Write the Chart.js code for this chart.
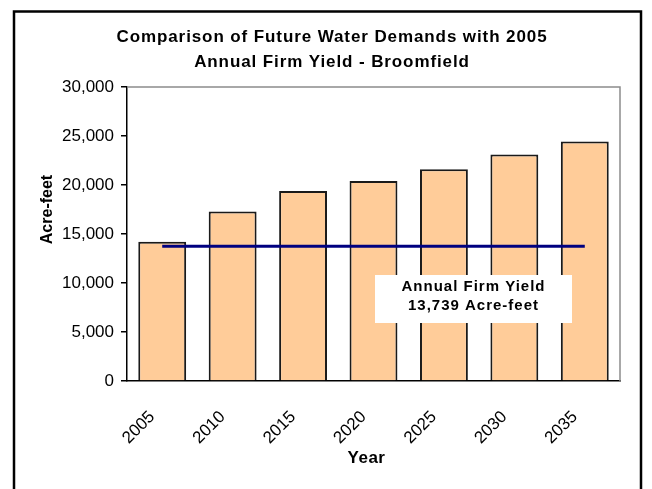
<!DOCTYPE html>
<html>
<head>
<meta charset="utf-8">
<script src="https://cdn.jsdelivr.net/npm/chart.js@4"></script>
<style>
html,body{margin:0;padding:0;background:#fff;}
canvas{display:block;}
</style>
</head>
<body>
<canvas id="c" width="652" height="489"></canvas>
<script>
// ---- data ----
const years = ['2005', '2010', '2015', '2020', '2025', '2030', '2035'];
const demandAcreFeet = [14200, 17300, 19400, 20400, 21600, 23100, 24450];
const firmYieldAcreFeet = [13739, 13739, 13739, 13739, 13739, 13739, 13739];
const yAxisMin = 0;
const yAxisMax = 30000;
const yAxisStep = 5000;
const chartTitle = ['Comparison of Future Water Demands with 2005', 'Annual Firm Yield - Broomfield'];
const xAxisTitle = 'Year';
const yAxisTitle = 'Acre-feet';
const yieldNote = ['Annual Firm Yield', '13,739 Acre-feet'];

const FONT = '"Liberation Sans", Arial, sans-serif';
Chart.defaults.font.family = FONT;
Chart.defaults.color = '#000';

const decor = {
  id: 'decor',
  beforeDraw(chart) {
    const ctx = chart.ctx;
    ctx.save();
    ctx.fillStyle = '#fff';
    ctx.fillRect(0, 0, chart.width, chart.height);
    ctx.strokeStyle = '#000';
    ctx.lineWidth = 2.5;
    ctx.strokeRect(14, 11.5, 627, 500);
    ctx.restore();
  },
  beforeDatasetsDraw(chart) {
    const ctx = chart.ctx, a = chart.chartArea;
    ctx.save();
    ctx.strokeStyle = '#8c8c8c';
    ctx.lineWidth = 1.5;
    ctx.beginPath();
    ctx.moveTo(a.left, a.top);
    ctx.lineTo(a.right, a.top);
    ctx.lineTo(a.right, a.bottom);
    ctx.stroke();
    ctx.restore();
  },
  afterDraw(chart) {
    const ctx = chart.ctx, a = chart.chartArea;
    ctx.save();
    ctx.fillStyle = '#000';
    ctx.textAlign = 'center';
    ctx.textBaseline = 'middle';
    // title
    ctx.font = 'bold 17px ' + FONT;
    ctx.letterSpacing = '0.9px';
    ctx.fillText(chartTitle[0], 332, 37);
    ctx.fillText(chartTitle[1], 332, 62);
    // axis titles
    ctx.font = 'bold 17px ' + FONT;
    ctx.letterSpacing = '0.5px';
    ctx.fillText(xAxisTitle, (a.left + a.right) / 2 - 7, 458);
    ctx.save();
    ctx.translate(47.5, 209.5);
    ctx.rotate(-Math.PI / 2);
    ctx.font = 'bold 16px ' + FONT;
    ctx.letterSpacing = '0px';
    ctx.fillText(yAxisTitle, 0, 0);
    ctx.restore();
    // annotation box
    const cx = a.left + 346.5;
    const top = a.top + 188;
    ctx.fillStyle = '#fff';
    ctx.fillRect(cx - 98.5, top, 197, 48);
    ctx.fillStyle = '#000';
    ctx.font = 'bold 15px ' + FONT;
    ctx.letterSpacing = '1px';
    ctx.fillText(yieldNote[0], cx, top + 12);
    ctx.fillText(yieldNote[1], cx, top + 31);
    ctx.restore();
  }
};

new Chart(document.getElementById('c'), {
  data: {
    labels: years,
    datasets: [
      {
        type: 'line',
        label: 'Annual Firm Yield',
        data: firmYieldAcreFeet,
        borderColor: '#000080',
        borderWidth: 3,
        pointRadius: 0,
        fill: false,
        order: 1
      },
      {
        type: 'bar',
        label: 'Water Demand',
        data: demandAcreFeet,
        backgroundColor: '#FFCC99',
        borderColor: '#1a1a1a',
        borderWidth: 2,
        categoryPercentage: 1,
        barPercentage: 0.68,
        order: 2
      }
    ]
  },
  options: {
    responsive: false,
    devicePixelRatio: 1,
    animation: false,
    layout: { padding: { left: 14, right: 32, top: 87, bottom: 0 } },
    plugins: {
      legend: { display: false },
      title: { display: false },
      tooltip: { enabled: false }
    },
    scales: {
      x: {
        type: 'category',
        offset: true,
        grid: { display: false },
        border: { display: true, color: '#000', width: 1.5 },
        ticks: {
          font: { size: 17 },
          color: '#000',
          minRotation: 45,
          maxRotation: 45,
          padding: 18,
          labelOffset: -10
        },
        afterFit(scale) { scale.height = 108; }
      },
      y: {
        min: yAxisMin,
        max: yAxisMax,
        grid: {
          display: true,
          drawOnChartArea: false,
          drawTicks: true,
          tickLength: 6,
          color: '#000',
          lineWidth: 1.5
        },
        border: { display: true, color: '#000', width: 1.5 },
        ticks: {
          stepSize: yAxisStep,
          font: { size: 17 },
          color: '#000',
          padding: 7,
          callback: (v) => v.toLocaleString('en-US')
        },
        afterFit(scale) { scale.width = 113; }
      }
    }
  },
  plugins: [decor]
});
</script>
</body>
</html>
